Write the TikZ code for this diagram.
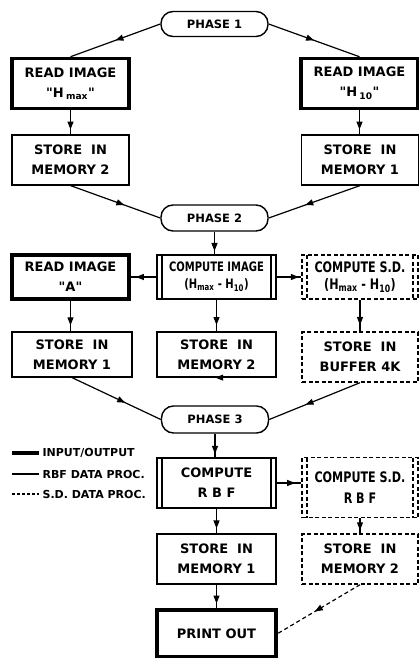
\documentclass[tikz,border=0pt]{standalone}
\usepackage{fontspec}
\setmainfont{DejaVu Sans}
\newfontfamily\narrowfont{DejaVu Sans}[FakeStretch=0.77]
\usetikzlibrary{arrows.meta,decorations.markings}

\begin{document}
\begin{tikzpicture}[x=1pt,y=-1pt,line width=1.2pt,
  every node/.style={font=\bfseries\fontsize{13}{20}\selectfont,align=center,inner sep=0pt},
  box/.style={draw,rectangle,minimum width=117pt,minimum height=50pt},
  io/.style={box,line width=3.5pt},
  bars/.style={path picture={
    \draw[line width=1.2pt,#1] ([xshift=5pt]path picture bounding box.north west) -- ([xshift=5pt]path picture bounding box.south west)
      ([xshift=-5pt]path picture bounding box.north east) -- ([xshift=-5pt]path picture bounding box.south east);}},
  bars/.default=solid,
  sd/.style={box,dash pattern=on 4pt off 2.5pt,line width=1.4pt},
  comp/.style={box,bars},
  sdcomp/.style={sd,bars={dash pattern=on 4pt off 2.5pt}},
  phase/.style={draw,rectangle,rounded corners=12pt,minimum width=107pt,minimum height=25pt,line width=1.4pt,
    font=\bfseries\fontsize{11.5}{13}\selectfont},
  narrow/.style={font=\narrowfont\bfseries\fontsize{#1}{17}\selectfont},
  flow/.style={decoration={markings,mark=at position #1 with {\arrow{Triangle[length=8pt,width=6pt]}}},postaction={decorate}},
  flow/.default=0.55,
  key/.style={anchor=west,font=\bfseries\fontsize{11}{13}\selectfont}
]
\useasboundingbox (0,0) rectangle (419,658);

\node[phase] (ph1) at (214.5,24) {PHASE 1};

\node[io] (rdHmax) at (70.5,83.5) {READ IMAGE\\\textquotedbl H\,\textsubscript{max}\textquotedbl};
\node[io] (rdH10) at (359.5,83.5) {READ IMAGE\\\textquotedbl H\,\textsubscript{10}\textquotedbl};

\node[box] (stM2a) at (70.5,160) {STORE\ \ IN\\MEMORY 2};
\node[box] (stM1a) at (360,160) {STORE\ \ IN\\MEMORY 1};

\node[phase,minimum height=26pt] (ph2) at (214.5,218) {PHASE 2};

\node[io,minimum height=44pt] (rdA) at (70.5,277) {READ IMAGE\\\textquotedbl A\textquotedbl};
\node[comp,minimum width=119pt,minimum height=44pt,narrow=13] (cmpImg) at (216.5,277)
  {COMPUTE IMAGE\\(H\textsubscript{max} - H\textsubscript{10})};
\node[sdcomp,minimum width=116pt,minimum height=44pt,narrow=14.5] (cmpSD) at (360,277)
  {COMPUTE S.D.\\(H\textsubscript{max} - H\textsubscript{10})};

\node[box,minimum width=120pt,minimum height=45pt] (stM1b) at (72,354.5) {STORE\ \ IN\\MEMORY 1};
\node[box,minimum width=119pt,minimum height=45pt] (stM2b) at (216.5,354.5) {STORE\ \ IN\\MEMORY 2};
\node[sd,minimum width=116pt] (stBuf) at (360,357) {STORE\ \ IN\\BUFFER 4K};

\node[phase,minimum height=27pt] (ph3) at (215,419.5) {PHASE 3};

\node[comp,minimum width=119pt] (cmpRBF) at (216.5,483) {COMPUTE\\R B F};
\node[sdcomp,minimum width=116pt,minimum height=60pt,narrow=14.5] (cmpSDR) at (360,487.5)
  {COMPUTE S.D.\\[4pt]R B F};

\node[box,minimum width=119pt] (stM1c) at (216.5,559) {STORE\ \ IN\\MEMORY 1};
\node[sd,minimum width=116pt] (stM2c) at (360,559) {STORE\ \ IN\\MEMORY 2};

\node[io,minimum width=119pt,minimum height=47pt] (prt) at (216.5,633.5) {PRINT OUT};

% key
\node[key] (kIO) at (42,453) {INPUT/OUTPUT};
\node[key] (kRBF) at (42,474) {RBF DATA PROC.};
\node[key] (kSD) at (42,494) {S.D. DATA PROC.};
\coordinate (k1) at (12,453);
\coordinate (k2) at (12,474);
\coordinate (k3) at (12,494);
\draw[line width=4pt,shorten >=3pt] (k1) -- (kIO.west);
\draw[shorten >=3pt] (k2) -- (kRBF.west);
\draw[dash pattern=on 3pt off 2pt,shorten >=3pt] (k3) -- (kSD.west);

% phase 1
\draw[flow=0.5] (ph1.west) -- (rdHmax.north);
\draw[flow=0.5] (ph1.east) -- (rdH10.north);
\draw[flow=0.8] (rdHmax.south) -- (rdHmax.south |- stM2a.north);
\draw[flow=0.8] (rdH10.south) -- (rdH10.south |- stM1a.north);
\draw[flow=0.6] (stM2a.south) -- (ph2.west);
\draw[flow=0.6] (stM1a.south) -- (ph2.east);

% phase 2
\draw[flow=0.85] (ph2.south) -- (ph2.south |- cmpImg.north);
\draw[flow=0.8] (cmpImg.west) -- (cmpImg.west -| rdA.east);
\draw[flow=0.9] (cmpImg.east) -- (cmpImg.east -| cmpSD.west);
\draw[flow=0.8] (rdA.south) -- (rdA.south |- stM1b.north);
\draw[flow=0.8] (cmpImg.south) -- (cmpImg.south |- stM2b.north);
\draw[flow=0.8] (cmpSD.south) -- (cmpSD.south |- stBuf.north);
\draw[flow=0.6] (stM1b.south) -- (ph3.west);
\draw[flow=0.85] (stM2b.south) -- (stM2b.south -| ph3.north);
\draw[flow=0.6] (stBuf.south) -- (ph3.east);

% phase 3
\draw[flow=0.85] (ph3.south) -- (ph3.south |- cmpRBF.north);
\draw[flow=0.75] (cmpRBF.east) -- (cmpRBF.east -| cmpSDR.west);
\draw[flow=0.8] (cmpRBF.south) -- (cmpRBF.south |- stM1c.north);
\draw[flow=0.8] (cmpSDR.south) -- (cmpSDR.south |- stM2c.north);
\draw[flow=0.8] (stM1c.south) -- (stM1c.south |- prt.north);
\draw[flow=0.55,dash pattern=on 4pt off 3pt] (stM2c.south) -- (prt.east);

\end{tikzpicture}
\end{document}
